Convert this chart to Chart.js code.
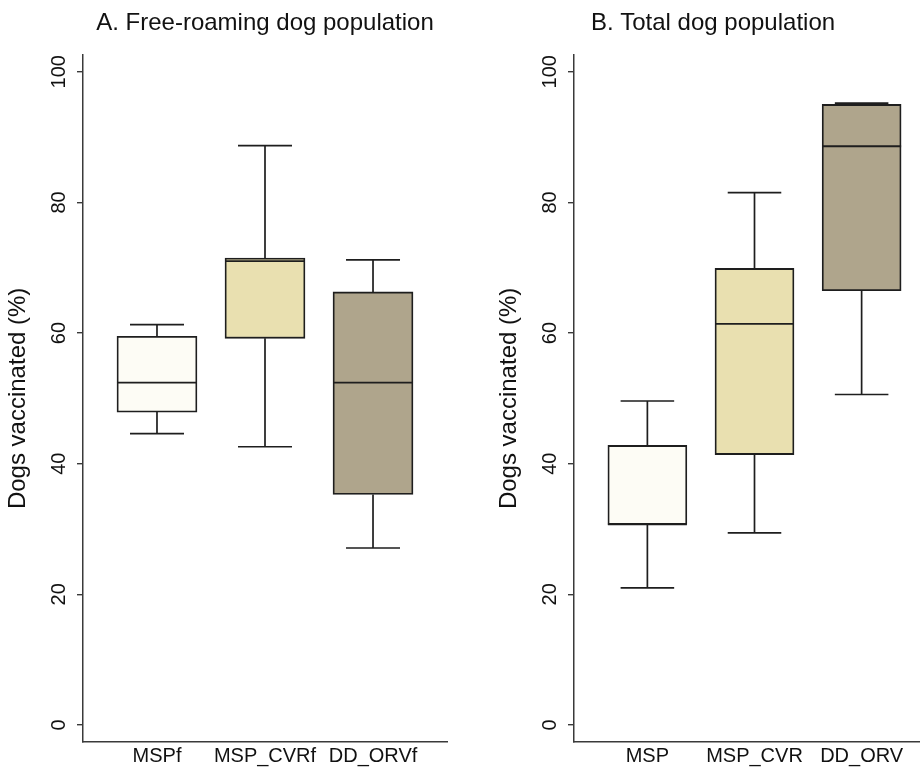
<!DOCTYPE html>
<html>
<head>
<meta charset="utf-8">
<script src="https://cdn.jsdelivr.net/npm/chart.js@4/dist/chart.umd.min.js"></script>
<style>
  html, body { margin: 0; padding: 0; background: #ffffff; width: 920px; height: 767px; overflow: hidden; position: relative; }
  canvas { position: absolute; top: 0; }
  #chartA { left: 0px; }
  #chartB { left: 491px; }
</style>
</head>
<body>
<canvas id="chartA" width="532" height="767"></canvas>
<canvas id="chartB" width="444" height="767"></canvas>
<script>
// ---- Data ----
const titleA = 'A. Free-roaming dog population';
const titleB = 'B. Total dog population';
const yAxisTitle = 'Dogs vaccinated (%)';
const yTicks = [0, 20, 40, 60, 80, 100];
const yTickLabels = ['0', '20', '40', '60', '80', '100'];

const categoriesA = ['MSPf', 'MSP_CVRf', 'DD_ORVf'];
const minA = [44.6, 42.6, 27.1];
const q1A  = [47.9, 59.2, 35.3];
const medA = [52.4, 71.0, 52.4];
const q3A  = [59.5, 71.5, 66.3];
const maxA = [61.3, 88.7, 71.2];

const categoriesB = ['MSP', 'MSP_CVR', 'DD_ORV'];
const minB = [21.0, 29.4, 50.6];
const q1B  = [30.7, 41.4, 66.5];
const medB = [30.7, 61.4, 88.6];
const q3B  = [42.8, 69.9, 95.0];
const maxB = [49.6, 81.5, 95.2];

const boxColors = ['#FDFCF5', '#E9E0B0', '#AFA58C'];

// ---- Styles ----
const FONT = "'Liberation Sans', Arial, Helvetica, sans-serif";
const INK = '#1e1e1e';

const whiskerPlugin = {
  id: 'whiskers',
  afterDatasetsDraw(chart, args, opts) {
    const ctx = chart.ctx;
    const xs = chart.scales.x, ys = chart.scales.y;
    const meta = chart.getDatasetMeta(0);
    const s = opts.stats;
    ctx.save();
    ctx.strokeStyle = INK;
    ctx.lineCap = 'butt';
    for (let i = 0; i < s.min.length; i++) {
      const xv = i + 1;
      const xc = xs.getPixelForValue(xv);
      const xl = xs.getPixelForValue(xv - opts.capHalf);
      const xr = xs.getPixelForValue(xv + opts.capHalf);
      const bar = meta.data[i];
      const bl = bar.x - bar.width / 2, br = bar.x + bar.width / 2;
      ctx.lineWidth = 1.7;
      ctx.beginPath();
      // upper whisker
      ctx.moveTo(xc, ys.getPixelForValue(s.q3[i]));
      ctx.lineTo(xc, ys.getPixelForValue(s.max[i]));
      ctx.moveTo(xl, ys.getPixelForValue(s.max[i]));
      ctx.lineTo(xr, ys.getPixelForValue(s.max[i]));
      // lower whisker
      ctx.moveTo(xc, ys.getPixelForValue(s.q1[i]));
      ctx.lineTo(xc, ys.getPixelForValue(s.min[i]));
      ctx.moveTo(xl, ys.getPixelForValue(s.min[i]));
      ctx.lineTo(xr, ys.getPixelForValue(s.min[i]));
      ctx.stroke();
      // median
      ctx.lineWidth = 1.8;
      ctx.beginPath();
      ctx.moveTo(bl, ys.getPixelForValue(s.med[i]));
      ctx.lineTo(br, ys.getPixelForValue(s.med[i]));
      ctx.stroke();
    }
    ctx.restore();
  }
};

const yLabelPlugin = {
  id: 'ylabels',
  afterDraw(chart, args, opts) {
    const ctx = chart.ctx;
    const ys = chart.scales.y;
    ctx.save();
    ctx.fillStyle = '#111111';
    ctx.font = '20px ' + FONT;
    ctx.textAlign = 'center';
    ctx.textBaseline = 'middle';
    ys.ticks.forEach((t) => {
      const y = ys.getPixelForValue(t.value);
      ctx.save();
      ctx.translate(ys.right - opts.offset, y);
      ctx.rotate(-Math.PI / 2);
      ctx.fillText(yTickLabels[yTicks.indexOf(t.value)], 0, 0);
      ctx.restore();
    });
    ctx.restore();
  }
};

function makeChart(id, title, cats, mins, q1s, meds, q3s, maxs, barPx, padRight, titleFull) {
  const data = cats.map((c, i) => ({ x: i + 1, y: [q1s[i], q3s[i]] }));
  return new Chart(document.getElementById(id), {
    type: 'bar',
    data: {
      datasets: [{
        data: data,
        backgroundColor: boxColors,
        borderColor: INK,
        borderWidth: 1.8,
        borderSkipped: false,
        barThickness: barPx
      }]
    },
    options: {
      responsive: false,
      animation: false,
      devicePixelRatio: 1,
      layout: { padding: { left: 0, right: padRight, top: 0, bottom: 0 } },
      plugins: {
        legend: { display: false },
        tooltip: { enabled: false },
        title: {
          display: true,
          fullSize: titleFull,
          text: title,
          color: '#111111',
          font: { family: FONT, size: 24, weight: 'normal' },
          padding: { top: 9, bottom: 17 }
        },
        whiskers: { stats: { min: mins, q1: q1s, med: meds, q3: q3s, max: maxs }, capHalf: 0.25 },
        ylabels: { offset: 24 }
      },
      scales: {
        x: {
          type: 'linear',
          min: 0.315,
          max: 3.685,
          offset: false,
          afterBuildTicks: (scale) => { scale.ticks = cats.map((c, i) => ({ value: i + 1 })); },
          afterFit: (scale) => { scale.height = 25; },
          grid: { display: false, drawTicks: false },
          border: { display: true, color: '#3a3a3a', width: 1.5 },
          ticks: {
            autoSkip: false,
            maxRotation: 0,
            minRotation: 0,
            padding: 2,
            color: '#111111',
            font: { family: FONT, size: 20 },
            callback: (v) => cats[v - 1]
          }
        },
        y: {
          type: 'linear',
          min: -2.6,
          max: 102.6,
          afterBuildTicks: (scale) => { scale.ticks = yTicks.map(v => ({ value: v })); },
          afterFit: (scale) => { scale.width = 83; },
          grid: {
            display: true,
            drawOnChartArea: false,
            drawTicks: true,
            tickLength: 6,
            color: '#3a3a3a',
            lineWidth: 1.4
          },
          border: { display: true, color: '#3a3a3a', width: 1.5 },
          ticks: { display: false },
          title: {
            display: true,
            text: yAxisTitle,
            color: '#111111',
            font: { family: FONT, size: 24, weight: 'normal' },
            padding: { top: 4, bottom: 4 }
          }
        }
      }
    },
    plugins: [whiskerPlugin, yLabelPlugin]
  });
}

makeChart('chartA', titleA, categoriesA, minA, q1A, medA, q3A, maxA, 80, 85, false);
makeChart('chartB', titleB, categoriesB, minB, q1B, medB, q3B, maxB, 79, 0, true);
</script>
</body>
</html>
